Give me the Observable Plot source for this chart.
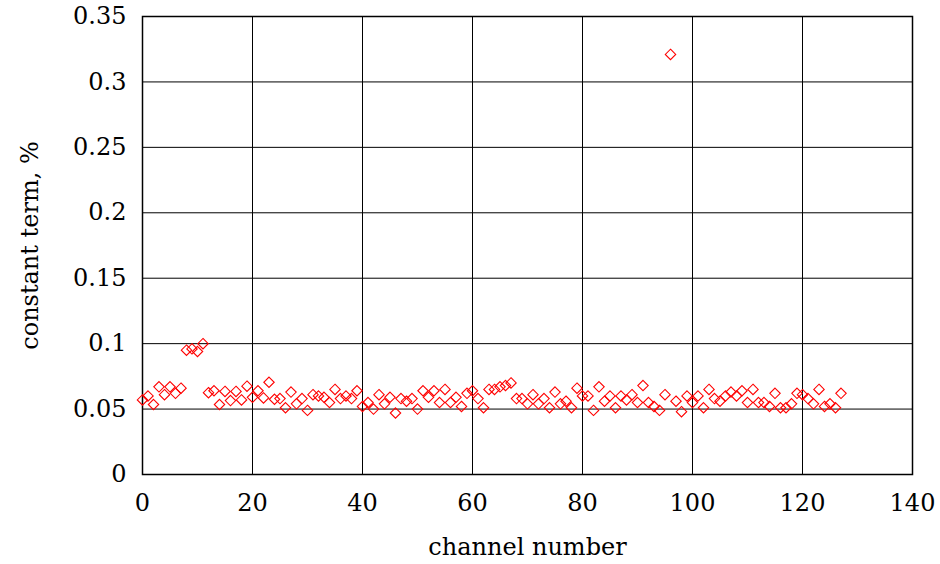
<!DOCTYPE html>
<html>
<head>
<meta charset="utf-8">
<script src="https://cdn.jsdelivr.net/npm/d3@7"></script>
<script src="https://cdn.jsdelivr.net/npm/@observablehq/plot@0.6"></script>
<style>
  html, body { margin: 0; padding: 0; background: #fff; }
  #chart svg { display: block; }
  #chart svg text { font-family: "DejaVu Serif", serif !important; }
</style>
</head>
<body>
<div id="chart"></div>
<script>
const channels = d3.range(0, 128);
const constantTerm = [
  0.057, 0.060, 0.0535, 0.067, 0.061, 0.067, 0.062, 0.066, 0.095, 0.096,
  0.094, 0.100, 0.0625, 0.064, 0.0535, 0.0635, 0.0565, 0.0635, 0.057, 0.0675,
  0.059, 0.064, 0.0585, 0.0705, 0.0575, 0.058, 0.051, 0.063, 0.054, 0.058,
  0.049, 0.061, 0.060, 0.059, 0.055, 0.065, 0.058, 0.060, 0.058, 0.064,
  0.052, 0.055, 0.050, 0.061, 0.054, 0.059, 0.047, 0.058, 0.056, 0.058,
  0.050, 0.064, 0.059, 0.064, 0.055, 0.065, 0.055, 0.059, 0.052, 0.062,
  0.064, 0.058, 0.051, 0.065, 0.065, 0.067, 0.068, 0.070, 0.058, 0.058,
  0.054, 0.061, 0.054, 0.058, 0.051, 0.063, 0.054, 0.056, 0.051, 0.066,
  0.060, 0.060, 0.049, 0.067, 0.056, 0.060, 0.051, 0.060, 0.057, 0.061,
  0.055, 0.068, 0.055, 0.052, 0.049, 0.061, 0.321, 0.056, 0.048, 0.060,
  0.055, 0.060, 0.051, 0.065, 0.058, 0.056, 0.060, 0.063, 0.060, 0.064,
  0.055, 0.065, 0.055, 0.055, 0.052, 0.062, 0.051, 0.051, 0.054, 0.062,
  0.061, 0.058, 0.054, 0.065, 0.052, 0.054, 0.051, 0.062
];
const xTicks = [0, 20, 40, 60, 80, 100, 120, 140];
const yTicks = [0, 0.05, 0.1, 0.15, 0.2, 0.25, 0.3, 0.35];
const yTickLabels = ["0", "0.05", "0.1", "0.15", "0.2", "0.25", "0.3", "0.35"];

const data = channels.map((c, i) => ({channel: c, value: constantTerm[i]}));
const FONT = "DejaVu Serif";

const chart = Plot.plot({
  width: 940,
  height: 564,
  marginLeft: 142,
  marginRight: 28,
  marginTop: 16,
  marginBottom: 90,
  style: {fontFamily: FONT, fontSize: "24px", color: "#000", background: "#fff"},
  x: {domain: [0, 140], ticks: xTicks},
  y: {domain: [0, 0.35], ticks: yTicks},
  marks: [
    Plot.gridX(xTicks, {stroke: "#000", strokeOpacity: 1, strokeWidth: 1}),
    Plot.gridY(yTicks, {stroke: "#000", strokeOpacity: 1, strokeWidth: 1}),
    Plot.axisX(xTicks, {tickSize: 0, tickPadding: 19, fontSize: 24, fontFamily: FONT, label: null}),
    Plot.axisY(yTicks, {tickSize: 0, tickPadding: 16, fontSize: 24, fontFamily: FONT, label: null,
      tickFormat: (d) => yTickLabels[yTicks.indexOf(d)]}),
    Plot.text(["channel number"], {frameAnchor: "bottom", dy: 80, fontSize: 24, fontFamily: FONT, textAnchor: "middle"}),
    Plot.text(["constant term, %"], {frameAnchor: "left", dx: -112, rotate: -90, fontSize: 24, fontFamily: FONT, textAnchor: "middle"}),
    Plot.frame({stroke: "#000", strokeWidth: 1.5}),
    Plot.dot(data, {x: "channel", y: "value", symbol: "diamond2", r: 4.7, stroke: "red", strokeWidth: 1.1, fill: "none"})
  ]
});
document.getElementById("chart").appendChild(chart);
</script>
</body>
</html>
